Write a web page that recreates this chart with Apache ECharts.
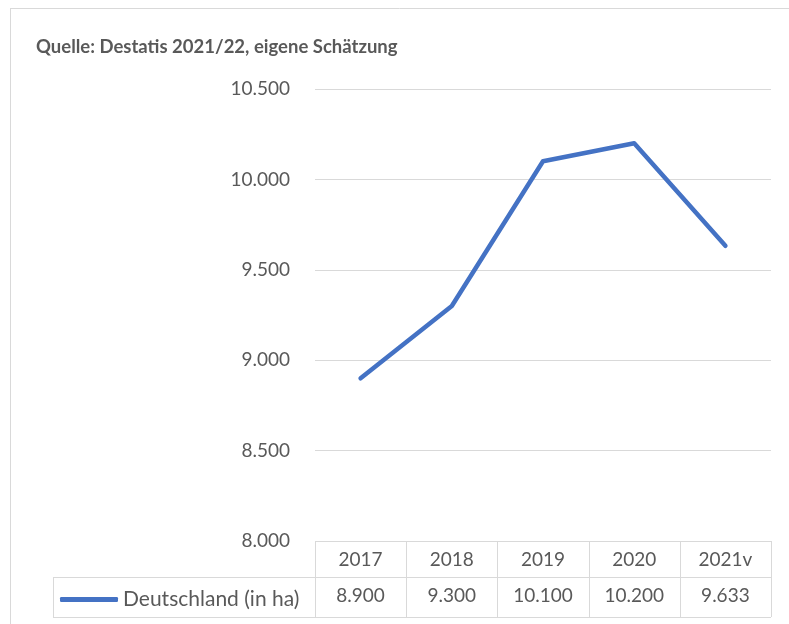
<!DOCTYPE html>
<html>
<head>
<meta charset="utf-8">
<script src="https://cdn.jsdelivr.net/npm/echarts@6/dist/echarts.min.js"></script>
<style>
  html, body { margin: 0; padding: 0; background: #ffffff; }
  #chart { width: 789px; height: 624px; }
</style>
</head>
<body>
<div id="chart"></div>
<script>
// ---- data ----
const titleText = 'Quelle: Destatis 2021/22, eigene Schätzung';
const seriesName = 'Deutschland (in ha)';
const categories = ['2017', '2018', '2019', '2020', '2021v'];
const values = [8900, 9300, 10100, 10200, 9633];
const yTicks = [8000, 8500, 9000, 9500, 10000, 10500];

const fmt = v => String(v).replace(/\B(?=(\d{3})+(?!\d))/g, '.');
const valueLabels = values.map(fmt);

const FONT = 'Lato, "Open Sans", sans-serif';
const TXT = '#595959';
const LINE = '#d9d9d9';
const BLUE = '#4472C4';

const chart = echarts.init(document.getElementById('chart'), null, { renderer: 'canvas' });

const option = {
  backgroundColor: '#ffffff',
  animation: false,
  title: {
    text: titleText,
    left: 31,
    top: 33,
    textStyle: { fontFamily: FONT, fontSize: 18.5, fontWeight: 'bold', color: TXT }
  },
  legend: {
    data: [{ name: seriesName, icon: 'roundRect' }],
    left: 55,
    top: 584,
    itemWidth: 58,
    itemHeight: 5,
    textStyle: { fontFamily: FONT, fontSize: 21, color: TXT }
  },
  grid: { left: 315, right: 18, top: 89, bottom: 83, containLabel: false },
  xAxis: [
    {
      type: 'category',
      data: categories,
      boundaryGap: true,
      axisLine: { show: false },
      axisTick: { show: false },
      axisLabel: { margin: 9, fontFamily: FONT, fontSize: 19, color: TXT }
    },
    {
      type: 'category',
      data: valueLabels,
      position: 'bottom',
      offset: 36,
      boundaryGap: true,
      axisLine: { show: false },
      axisTick: { show: false },
      axisLabel: { margin: 9, fontFamily: FONT, fontSize: 19, color: TXT }
    }
  ],
  yAxis: {
    type: 'value',
    min: 8000,
    max: 10500,
    interval: 500,
    axisLine: { show: false },
    axisTick: { show: false },
    axisLabel: {
      margin: 25,
      fontFamily: FONT, fontSize: 19, color: TXT,
      formatter: v => fmt(v)
    },
    splitLine: { lineStyle: { color: LINE, width: 1 } }
  },
  series: [
    {
      name: seriesName,
      type: 'line',
      data: values,
      xAxisIndex: 0,
      showSymbol: false,
      symbol: 'none',
      color: BLUE,
      lineStyle: { color: BLUE, width: 4.5, cap: 'round', join: 'round' }
    }
  ]
};
chart.setOption(option);

// table borders derived from the axes' pixel positions
const c0 = chart.convertToPixel({ xAxisIndex: 0 }, 0);
const c1 = chart.convertToPixel({ xAxisIndex: 0 }, 1);
const bw = c1 - c0;
const xStart = c0 - bw / 2;
const yTop = chart.convertToPixel({ yAxisIndex: 0 }, yTicks[0]);
const row1 = yTop + 36;
const row2 = yTop + 76;
const xEnd = xStart + bw * categories.length;
const legendLeft = 53;

const g = [];
const ln = (x1, y1, x2, y2, color) => g.push({
  type: 'line', silent: true,
  shape: { x1, y1, x2, y2 },
  style: { stroke: color || LINE, lineWidth: 1 }
});
for (let i = 0; i <= categories.length; i++) {
  const x = Math.round(xStart + i * bw) + 0.5;
  ln(x, yTop, x, row2);
}
ln(legendLeft + 0.5, row1, legendLeft + 0.5, row2);
ln(legendLeft, Math.round(row1) + 0.5, xEnd, Math.round(row1) + 0.5);
ln(legendLeft, Math.round(row2) + 0.5, xEnd, Math.round(row2) + 0.5);
// outer chart frame
ln(10.5, 8, 10.5, 624);
ln(10, 8.5, 789, 8.5);

chart.setOption({ graphic: g });
</script>
</body>
</html>
